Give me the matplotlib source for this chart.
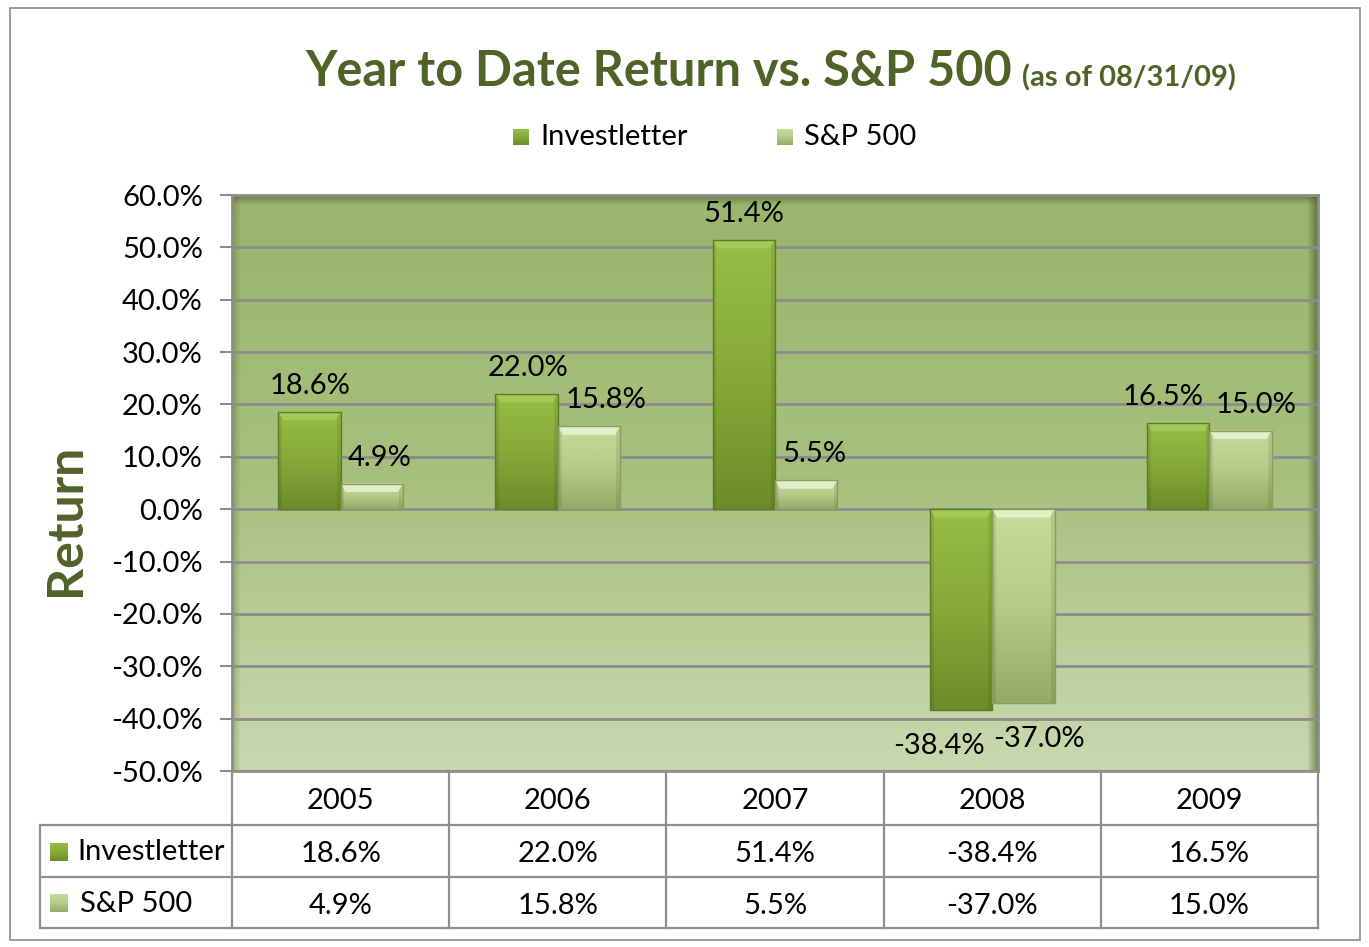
import numpy as np
import matplotlib
matplotlib.use("Agg")
import matplotlib.pyplot as plt
from matplotlib.colors import LinearSegmentedColormap
from matplotlib.patches import Rectangle, Polygon

# ---------------- data ----------------
years = ["2005", "2006", "2007", "2008", "2009"]
investletter = [18.6, 22.0, 51.4, -38.4, 16.5]
sp500 = [4.9, 15.8, 5.5, -37.0, 15.0]
series_names = ["Investletter", "S&P 500"]
yticks = [60, 50, 40, 30, 20, 10, 0, -10, -20, -30, -40, -50]

# label horizontal nudges (pixels), like Excel's label placement
inv_dx = [1, 1, 0, -22, -15]
sp_dx = [8, 17, 8, 16, 15]

plt.rcParams['font.family'] = ['Lato', 'DejaVu Sans']

W, H = 1369, 947
DPI = 100
fig = plt.figure(figsize=(W / DPI, H / DPI), dpi=DPI)
fig.patch.set_facecolor("white")

OLIVE = "#4F6228"
GRID = "#8C8C8C"
FS = 21

def fx(px):
    return px / W

def fy(py):
    return 1 - py / H

# outer chart border
fig.add_artist(Rectangle((fx(10), fy(940)), fx(1360) - fx(10), fy(8) - fy(940),
                         transform=fig.transFigure, fill=False, ec="#8a8a8a", lw=1.2))

L, R, T, B = 232, 1318, 195, 771
ax = fig.add_axes([fx(L), fy(B), fx(R) - fx(L), fy(T) - fy(B)])

# background gradient
bg = LinearSegmentedColormap.from_list("bg", ["#9AB56C", "#A8C07E", "#CAD9B0"])
ax.imshow(np.linspace(0, 1, 256).reshape(-1, 1), cmap=bg, aspect="auto",
          extent=[-0.5, 4.5, -50, 60], zorder=0, interpolation="bicubic")
# inner shadow on top, right and left edges
n = 40
sh = np.linspace(0.55, 0.0, n)
ax.imshow(np.dstack([np.full((1, n), 0.2), np.full((1, n), 0.25), np.full((1, n), 0.1), sh[::-1][None, :]]),
          aspect="auto", extent=[4.45, 4.5, -50, 60], zorder=0.5)
ax.imshow(np.dstack([np.full((n, 1), 0.2), np.full((n, 1), 0.25), np.full((n, 1), 0.1), sh[:, None]]),
          aspect="auto", extent=[-0.5, 4.5, 58.0, 60], zorder=0.5)
ax.imshow(np.dstack([np.full((1, n), 0.2), np.full((1, n), 0.25), np.full((1, n), 0.1), sh[None, :] * 0.5]),
          aspect="auto", extent=[-0.5, -0.46, -50, 60], zorder=0.5)
ax.set_xlim(-0.5, 4.5)
ax.set_ylim(-50, 60)

ax.set_yticks(yticks)
ax.set_yticklabels([f"{v:.1f}%" for v in yticks], fontsize=FS)
ax.set_xticks([])
ax.tick_params(axis="y", length=9, width=1.5, color=GRID, pad=12)
ax.grid(axis="y", color=GRID, lw=2, zorder=1)
ax.set_axisbelow(True)
for s in ax.spines.values():
    s.set_color(GRID)
    s.set_linewidth(2)

fig.text(fx(65), fy(520), "Return", rotation=90, ha="center", va="center",
         fontsize=36, fontweight="bold", color=OLIVE)

x = np.arange(len(years))
bw = 0.287
inv_cmap = LinearSegmentedColormap.from_list("inv", ["#96BE45", "#86AA39", "#6C8C2A"])
sp_cmap = LinearSegmentedColormap.from_list("sp", ["#C6DC9C", "#B5CB89", "#96AA68"])

def draw_bars(xpos, vals, cmap, top_hl, edge):
    bars = ax.bar(xpos, vals, width=bw, facecolor="none", edgecolor=edge, lw=1.0, zorder=3)
    for b in bars:
        x0, y0 = b.get_x(), b.get_y()
        w, h = b.get_width(), b.get_height()
        ylo, yhi = min(y0, y0 + h), max(y0, y0 + h)
        im = ax.imshow(np.linspace(0, 1, 128).reshape(-1, 1), cmap=cmap, aspect="auto",
                       extent=[x0, x0 + w, ylo, yhi], zorder=2.5, interpolation="bicubic")
        im.set_clip_path(b)
        ax.add_patch(Rectangle((x0, ylo), w * 0.06, yhi - ylo, color="#000000", alpha=0.08, lw=0, zorder=2.7))
        ax.add_patch(Rectangle((x0 + w * 0.94, ylo), w * 0.06, yhi - ylo, color="#000000", alpha=0.08, lw=0, zorder=2.7))
        bev = 1.6
        ax.add_patch(Polygon([(x0, yhi), (x0 + w, yhi), (x0 + w * 0.92, yhi - bev), (x0 + w * 0.08, yhi - bev)],
                             closed=True, color=top_hl, alpha=0.75, lw=0, zorder=2.8))
    ax.set_xlim(-0.5, 4.5)
    ax.set_ylim(-50, 60)
    return bars

draw_bars(x - bw / 2, investletter, inv_cmap, "#A9CF5E", "#5E7A25")
draw_bars(x + bw / 2, sp500, sp_cmap, "#EEF8D8", "#8A9C62")

def px2pt(p):
    return p * 72 / DPI

for vals, dxs, sgn in [(investletter, inv_dx, -1), (sp500, sp_dx, 1)]:
    for i, v in enumerate(vals):
        off = 13 if v >= 0 else -23
        ax.annotate(f"{v:.1f}%", (x[i] + sgn * bw / 2, v), xytext=(px2pt(dxs[i]), px2pt(off)),
                    textcoords="offset points", ha="center", va="bottom" if v >= 0 else "top",
                    fontsize=FS, zorder=5)

# ---------------- title & legend ----------------
fig.text(fx(1012), fy(72), "Year to Date Return vs. S&P 500", ha="right", va="center",
         fontsize=35, fontweight="bold", color=OLIVE)
fig.text(fx(1022), fy(78), "(as of 08/31/09)", ha="left", va="center",
         fontsize=21, fontweight="bold", color=OLIVE)

kax = fig.add_axes([0, 0, 1, 1], zorder=10)
kax.set_xlim(0, W)
kax.set_ylim(H, 0)
kax.axis("off")
for cx, cmap, label, tx in [(521, inv_cmap, series_names[0], 540), (785, sp_cmap, series_names[1], 804)]:
    kax.imshow(np.linspace(0, 1, 32).reshape(-1, 1), cmap=cmap, aspect="auto",
               extent=[cx - 8, cx + 8, 145, 129], zorder=6)
    kax.text(tx, 137, label, ha="left", va="center", fontsize=FS)

# ---------------- data table ----------------
rows_y = [771, 825, 877, 928]
col_x = [L + (R - L) * k / 5 for k in range(6)]
lab_left = 40
lc = "#8F8F8F"
lw = 1.6
kax.plot([L, R], [rows_y[0], rows_y[0]], color=lc, lw=lw)
for yy in rows_y[1:]:
    kax.plot([lab_left, R], [yy, yy], color=lc, lw=lw)
for xx in col_x:
    kax.plot([xx, xx], [rows_y[0], rows_y[3]], color=lc, lw=lw)
kax.plot([lab_left, lab_left], [rows_y[1], rows_y[3]], color=lc, lw=lw)

for k, yr in enumerate(years):
    cx = (col_x[k] + col_x[k + 1]) / 2
    kax.text(cx, (rows_y[0] + rows_y[1]) / 2 + 3, yr, ha="center", va="center", fontsize=FS)
    kax.text(cx, (rows_y[1] + rows_y[2]) / 2 + 3, f"{investletter[k]:.1f}%", ha="center", va="center", fontsize=FS)
    kax.text(cx, (rows_y[2] + rows_y[3]) / 2 + 3, f"{sp500[k]:.1f}%", ha="center", va="center", fontsize=FS)

for r, (cmap, label, tx) in enumerate([(inv_cmap, series_names[0], 77), (sp_cmap, series_names[1], 80)]):
    cy = (rows_y[r + 1] + rows_y[r + 2]) / 2
    kax.imshow(np.linspace(0, 1, 32).reshape(-1, 1), cmap=cmap, aspect="auto",
               extent=[50, 68, cy + 10, cy - 8], zorder=6)
    kax.text(tx, cy + 1, label, ha="left", va="center", fontsize=FS)
kax.set_xlim(0, W)
kax.set_ylim(H, 0)

fig.savefig("out.png", dpi=DPI, facecolor="white")
